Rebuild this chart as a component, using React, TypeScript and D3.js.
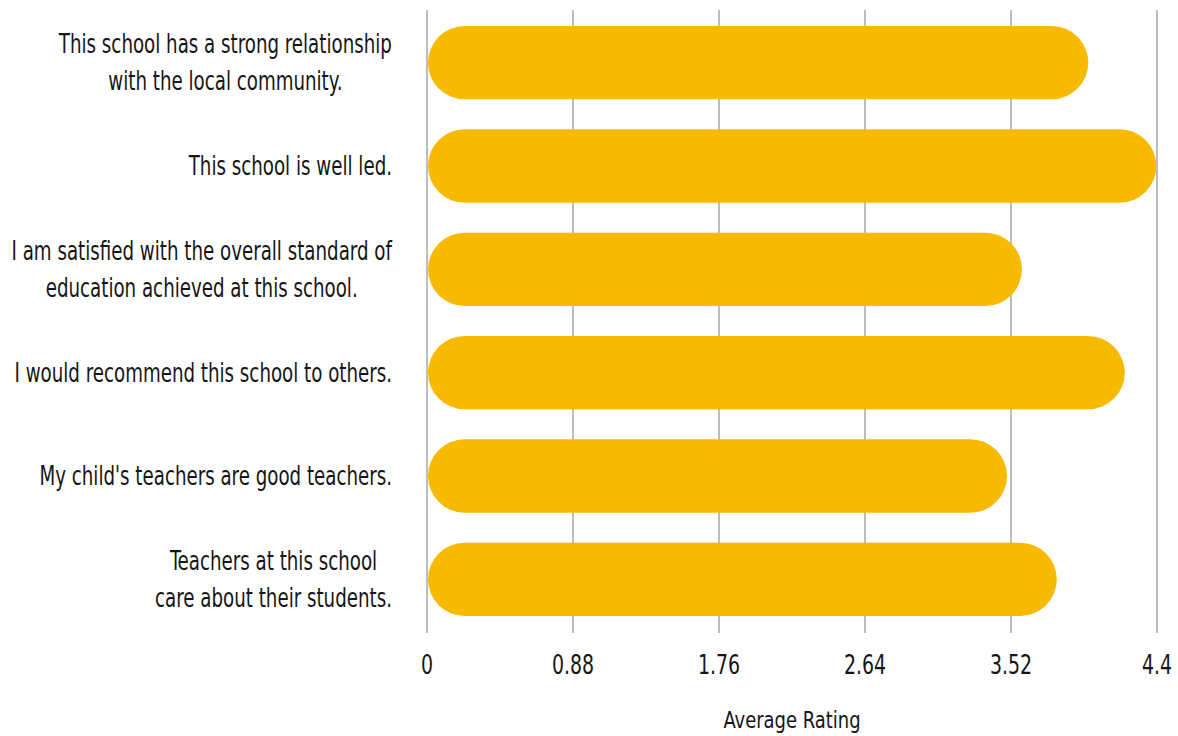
import React from "react";
import * as d3 from "d3";

const categories: string[][] = [
  ["This school has a strong relationship", "with the local community."],
  ["This school is well led."],
  ["I am satisfied with the overall standard of", "education achieved at this school."],
  ["I would recommend this school to others."],
  ["My child's teachers are good teachers."],
  ["Teachers at this school", "care about their students."],
];
const values: number[] = [3.98, 4.39, 3.58, 4.2, 3.49, 3.79];
const tickValues: number[] = [0, 0.88, 1.76, 2.64, 3.52, 4.4];
const axisTitle = "Average Rating";

const W = 1178;
const H = 736;
const FONT = "'DejaVu Sans Condensed', 'DejaVu Sans', sans-serif";
const LABEL_SIZE = 26.5;

let measureCtx: CanvasRenderingContext2D | null = null;
function measure(s: string): number {
  if (!measureCtx) {
    const c = document.createElement("canvas");
    measureCtx = c.getContext("2d");
  }
  if (!measureCtx) return s.length * LABEL_SIZE * 0.5;
  measureCtx.font = `${LABEL_SIZE}px 'DejaVu Sans Condensed', 'DejaVu Sans', sans-serif`;
  return measureCtx.measureText(s).width;
}

export default function App() {
  const x = d3.scaleLinear().domain([0, 4.4]).range([427, 1157]);
  const y = d3
    .scaleBand<number>()
    .domain(d3.range(categories.length))
    .range([11, 631])
    .paddingInner(0.29)
    .paddingOuter(0.145);
  const bw = y.bandwidth();
  const lineH = 37;

  return (
    <svg
      width={W}
      height={H}
      style={{ position: "absolute", left: 0, top: 0, background: "#fff" }}
    >
      {tickValues.map((t) => (
        <line
          key={"g" + t}
          x1={x(t)}
          x2={x(t)}
          y1={10}
          y2={633}
          stroke="#bdbdbd"
          strokeWidth={2}
        />
      ))}
      {values.map((v, i) => (
        <rect
          key={"b" + i}
          x={x(0) + 1}
          y={y(i)!}
          width={x(v) - x(0)}
          height={bw}
          rx={bw / 2}
          ry={bw / 2}
          fill="#F7BA00"
        />
      ))}
      {categories.map((lines, i) => {
        const cy = y(i)! + bw / 2;
        const n = lines.length;
        const maxW = n > 1 ? Math.max(...lines.map(measure)) : 0;
        return (
          <g key={"l" + i} transform={`translate(392,0) scale(0.765,1)`}>
            <text
              textAnchor={n > 1 ? "middle" : "end"}
              fontFamily={FONT}
              fontSize={LABEL_SIZE}
              fill="#161616"
            >
              {lines.map((ln, j) => (
                <tspan
                  key={j}
                  x={n > 1 ? -maxW / 2 : 0}
                  y={cy + 9 + (j - (n - 1) / 2) * lineH}
                >
                  {ln}
                </tspan>
              ))}
            </text>
          </g>
        );
      })}
      {tickValues.map((t) => (
        <g key={"t" + t} transform={`translate(${x(t)},674) scale(0.81,1)`}>
          <text
            x={0}
            y={0}
            textAnchor="middle"
            fontFamily={FONT}
            fontSize={26}
            fill="#161616"
          >
            {d3.format("~g")(t)}
          </text>
        </g>
      ))}
      <g transform={`translate(${(x(0) + x(4.4)) / 2},727.5) scale(0.85,1)`}>
        <text
          x={0}
          y={0}
          textAnchor="middle"
          fontFamily={FONT}
          fontSize={23.5}
          fill="#161616"
        >
          {axisTitle}
        </text>
      </g>
    </svg>
  );
}
